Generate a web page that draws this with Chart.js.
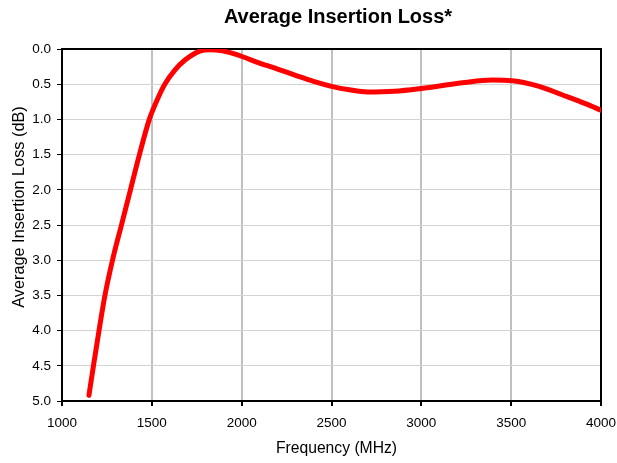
<!DOCTYPE html>
<html><head><meta charset="utf-8">
<script src="https://cdn.jsdelivr.net/npm/chart.js@4/dist/chart.umd.min.js"></script>
<style>html,body{margin:0;padding:0;background:#fff}canvas{display:block}</style>
</head><body><canvas id="c" width="617" height="463"></canvas>
<script>
const chartTitle = 'Average Insertion Loss*';
const xTitle = 'Frequency (MHz)';
const yTitle = 'Average Insertion Loss (dB)';
const frequencyMHz = [1150,1175,1206,1239,1281,1331,1381,1431,1486,1530,1572,1628,1683,1767,1822,1900,1960,2006,2100,2200,2300,2400,2500,2600,2700,2850,3000,3228,3394,3506,3656,3783,3917,4000];
const insertionLossDb = [4.92,4.5,4.0,3.5,3.0,2.5,2.0,1.5,1.0,0.72,0.5,0.30,0.16,0.03,0.01,0.03,0.07,0.11,0.20,0.285,0.375,0.46,0.53,0.58,0.61,0.60,0.56,0.48,0.44,0.45,0.53,0.65,0.78,0.87];
const xTicks = [1000,1500,2000,2500,3000,3500,4000];
const yTicks = [0.0,0.5,1.0,1.5,2.0,2.5,3.0,3.5,4.0,4.5,5.0];

const pts = frequencyMHz.map((f,i)=>({x:f,y:insertionLossDb[i]}));
const FONT = "'Liberation Sans', Arial, sans-serif";

const frame = {
  id:'frame',
  beforeDatasetsDraw(chart){
    const {ctx, chartArea:a} = chart;
    ctx.save();
    ctx.strokeStyle='#000';
    ctx.lineWidth=2;
    ctx.strokeRect(a.left, a.top, a.right-a.left, a.bottom-a.top);
    ctx.restore();
  },
  afterDraw(chart){
    const {ctx} = chart;
    ctx.save();
    ctx.fillStyle='#000';
    ctx.textAlign='center';
    ctx.textBaseline='alphabetic';
    ctx.font = "bold 20px " + FONT;
    ctx.fillText(chartTitle, 338, 23);
    ctx.font = "15.7px " + FONT;
    ctx.textBaseline='middle';
    ctx.fillText(xTitle, 336.5, 449);
    ctx.translate(20, 207);
    ctx.rotate(-Math.PI/2);
    ctx.font = "16.3px " + FONT;
    ctx.fillText(yTitle, 0, 0);
    ctx.restore();
  }
};

new Chart(document.getElementById('c'), {
  type:'line',
  data:{datasets:[{data:pts,borderColor:'#ff0000',borderWidth:5,pointRadius:0,cubicInterpolationMode:'monotone',fill:false,borderCapStyle:'round'}]},
  options:{
    responsive:false, animation:false, devicePixelRatio:1,
    layout:{padding:{left:0,right:0,top:49,bottom:0}},
    plugins:{legend:{display:false}, tooltip:{enabled:false}, title:{display:false}},
    scales:{
      x:{type:'linear',min:1000,max:4000,
        afterBuildTicks(s){s.ticks=xTicks.map(v=>({value:v}));},
        ticks:{color:'#000',font:{family:FONT,size:13.5},padding:9,maxRotation:0,autoSkip:false,callback:v=>String(v)},
        grid:{color:'#c0c0c0',lineWidth:2,tickColor:'#000',tickLength:5},
        border:{color:'#000',width:2},
        afterFit(s){s.height=62; s.paddingRight=16;}
      },
      y:{type:'linear',min:0,max:5,reverse:true,
        afterBuildTicks(s){s.ticks=yTicks.map(v=>({value:v}));},
        ticks:{color:'#000',font:{family:FONT,size:13.5},padding:6,autoSkip:false,callback:v=>Number(v).toFixed(1)},
        grid:{color:'#d4d4d4',lineWidth:1,tickColor:'#000',tickLength:5},
        border:{color:'#000',width:2},
        afterFit(s){s.width=62;}
      }
    }
  },
  plugins:[frame]
});
</script></body></html>
